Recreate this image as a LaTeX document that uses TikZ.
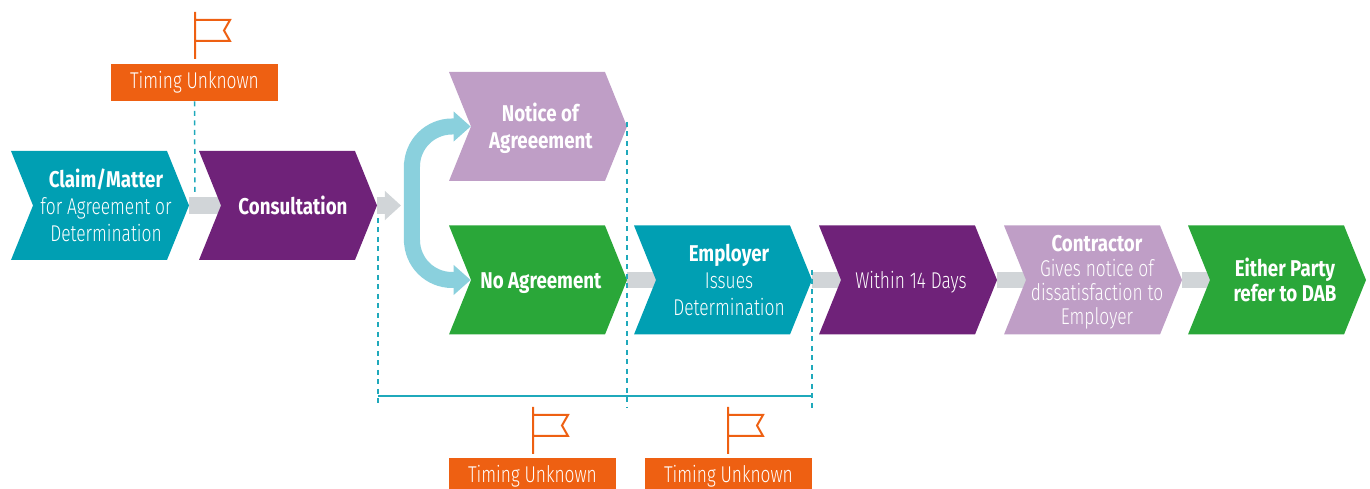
\documentclass[tikz,border=0pt]{standalone}
\usepackage{fontspec}
\setmainfont[FakeStretch=0.76,UprightFont=* Light,BoldFont=* Bold,BoldFeatures={FakeStretch=0.82}]{Fira Sans}
\usetikzlibrary{arrows.meta,backgrounds,shapes.symbols}
\definecolor{tealfill}{HTML}{009FB3}
\definecolor{purplefill}{HTML}{6F2279}
\definecolor{lilacfill}{HTML}{BF9EC6}
\definecolor{greenfill}{HTML}{2AA739}
\definecolor{orangefill}{HTML}{EE6012}
\definecolor{greybar}{HTML}{D1D5D8}
\definecolor{bluebend}{HTML}{8AD0DD}
\definecolor{tealline}{HTML}{1FA9BB}
\newcommand{\lbl}[3]{\hspace*{#1mm}\raisebox{-1.9pt}[\height][\depth]{\renewcommand{\arraystretch}{#2}\begin{tabular}{@{}c@{}}#3\end{tabular}}}
\tikzset{
  chevron/.style={signal,signal from=west,signal to=east,signal pointer angle=136,
    minimum width=3.56cm,minimum height=2.18cm,inner xsep=-8mm,inner ysep=-3mm,text=white,font=\fontsize{13}{15}\selectfont},
  timingbox/.style={fill=orangefill,text=white,minimum width=3.34cm,inner sep=0pt,font=\fontsize{13}{15}\selectfont},
  greylink/.style={greybar,line width=3.3mm},
  bendlink/.style={bluebend,line width=3.2mm,rounded corners=8mm,{Triangle[length=3.4mm,width=5.8mm]}-{Triangle[length=3.4mm,width=5.8mm]}},
  tickline/.style={tealline,line width=0.3mm,dash pattern=on 1mm off 0.9mm},
  spanline/.style={tealline,line width=0.3mm},
  flag/.pic={\draw[scale=0.2,orangefill,line width=0.4mm] (0,0) -- (0,-4.7) (0,-0.8) -- (3.5,-0.8) -- (2.9,-1.85) -- (3.5,-2.9) -- (0,-2.9);}
}
\begin{document}
\begin{tikzpicture}[scale=0.2]
\useasboundingbox (0,0) rectangle (137,-48.9);
\node [chevron,fill=tealfill] (claim) at (10,-20.55) {\lbl{2.4}{1.03}{\textbf{Claim/Matter}\\for Agreement or\\Determination}};
\node [chevron,fill=purplefill] (consult) at (28.8,-20.55) {\lbl{2}{1.03}{\textbf{Consultation}}};
\node [chevron,fill=lilacfill] (notice) at (53.8,-12.65) {\lbl{1.2}{1.03}{\textbf{Notice of}\\\textbf{Agreeement}}};
\node [chevron,fill=greenfill] (noagree) at (53.8,-28) {\lbl{1.2}{1.03}{\textbf{No Agreement}}};
\node [chevron,fill=tealfill] (employer) at (72.3,-28) {\lbl{2.4}{1.03}{\textbf{Employer}\\Issues\\Determination}};
\node [chevron,fill=purplefill] (within) at (90.8,-28) {\lbl{1.2}{1.03}{Within 14 Days}};
\node [chevron,fill=lilacfill] (contractor) at (109.3,-28) {\lbl{1.6}{0.91}{\textbf{Contractor}\\Gives notice of\\dissatisfaction to\\Employer}};
\node [chevron,fill=greenfill] (either) at (127.7,-28) {\lbl{3.2}{0.91}{\textbf{Either Party}\\\textbf{refer to DAB}}};
\node [timingbox,minimum height=0.74cm] (timinga) at (19.45,-8.25) {Timing Unknown};
\node [timingbox,minimum height=0.62cm] (timingb) at (53.25,-47.35) {\raisebox{-1.7pt}[\height][\depth]{Timing Unknown}};
\node [timingbox,minimum height=0.62cm] (timingc) at (72.85,-47.35) {\raisebox{-1.7pt}[\height][\depth]{Timing Unknown}};
\coordinate (gapend) at (40.1,-20.55);
\coordinate (bendleft) at (41.2,-20.3);
\coordinate (ticka) at (19.5,-19.5);
\coordinate (tickbtop) at (37.8,-21.8);
\coordinate (tickb) at (37.8,-40.8);
\coordinate (spanb) at (37.8,-39.6);
\coordinate (tickctop) at (62.7,-12.2);
\coordinate (tickc) at (62.7,-40.8);
\coordinate (tickdtop) at (81.2,-27);
\coordinate (tickd) at (81.2,-40.8);
\coordinate (spand) at (81.2,-39.6);
\begin{scope}[on background layer]
\draw [greylink] (claim.east) -- (consult.west);
\draw [greylink,-{Triangle[length=3.2mm,width=5.6mm]}] (consult.east) -- (gapend);
\draw [greylink] (noagree.east) -- (employer.west);
\draw [greylink] (employer.east) -- (within.west);
\draw [greylink] (within.east) -- (contractor.west);
\draw [greylink] (contractor.east) -- (either.west);
\end{scope}
\draw [bendlink] (notice.west) -| (bendleft) |- (noagree.west);
\draw [tickline] (timinga.south) -- (ticka);
\draw [tickline] (tickbtop) -- (tickb);
\draw [tickline] (tickctop) -- (tickc);
\draw [tickline] (tickdtop) -- (tickd);
\draw [spanline] (spanb) -- (spand);
\pic at (19.5,-1.2) {flag};
\pic at (53.3,-40.7) {flag};
\pic at (72.8,-40.7) {flag};
\end{tikzpicture}
\end{document}
